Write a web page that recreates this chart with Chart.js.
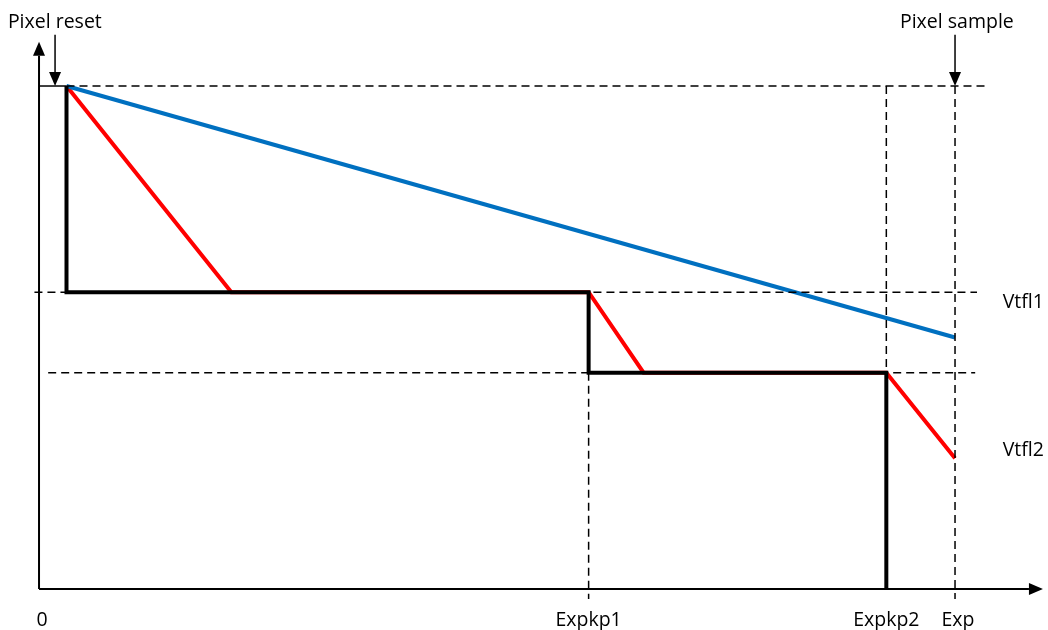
<!DOCTYPE html>
<html>
<head>
<meta charset="utf-8">
<script src="https://cdn.jsdelivr.net/npm/chart.js@4"></script>
<style>
  html, body { margin: 0; padding: 0; background: #fff; }
  #wrap { width: 1048px; height: 630px; }
</style>
</head>
<body>
<div id="wrap"><canvas id="c"></canvas></div>
<script>
// time axis: 0 = reset start, 100 = end of exposure; level axis: 100 = reset level
var MARK_T = [0, 60, 92.5, 100];
var MARK_LABELS = ["0", "Expkp1", "Expkp2", "Exp"];
var LEVELS = [100, 59, 43];
var LEVEL_LABELS = ["", "Vtfl1", "Vtfl2"];

var BLUE_T = [3, 100];
var BLUE_V = [100, 50];
var RED_T = [3, 21, 60, 66, 92.5, 100];
var RED_V = [100, 59, 59, 43, 43, 26];
var BLACK_T = [3, 3, 60, 60, 92.5, 92.5];
var BLACK_V = [100, 59, 59, 43, 43, 0];

function pts(xs, ys) { return xs.map(function (x, i) { return { x: x, y: ys[i] }; }); }

function dashed(data) {
  return { data: data, borderColor: "#000", borderWidth: 1.5, borderDash: [8, 5], pointRadius: 0, fill: false, tension: 0 };
}

var FONT = '19.5px "Open Sans", sans-serif';

var overlay = {
  id: "overlay",
  afterDatasetsDraw: function (chart) {
    var ctx = chart.ctx, sx = chart.scales.x, sy = chart.scales.y;
    var X = function (v) { return sx.getPixelForValue(v); };
    var Y = function (v) { return sy.getPixelForValue(v); };
    ctx.save();
    ctx.strokeStyle = "#000"; ctx.fillStyle = "#000";

    function arrow(x1, y1, x2, y2, w) {
      ctx.lineWidth = w;
      var a = Math.atan2(y2 - y1, x2 - x1), L = 14, H = 6;
      ctx.beginPath(); ctx.moveTo(x1, y1);
      ctx.lineTo(x2 - Math.cos(a) * L, y2 - Math.sin(a) * L); ctx.stroke();
      ctx.beginPath();
      ctx.moveTo(x2, y2);
      ctx.lineTo(x2 - Math.cos(a) * L - Math.sin(a) * H, y2 - Math.sin(a) * L + Math.cos(a) * H);
      ctx.lineTo(x2 - Math.cos(a) * L + Math.sin(a) * H, y2 - Math.sin(a) * L - Math.cos(a) * H);
      ctx.closePath(); ctx.fill();
    }

    // axes
    arrow(X(0), Y(0), X(0), Y(108.8), 2);
    arrow(X(0), Y(0), X(109.6), Y(0), 2);

    // short solid tick at reset level
    ctx.lineWidth = 1.5;
    ctx.beginPath(); ctx.moveTo(X(0), Y(100)); ctx.lineTo(X(3), Y(100)); ctx.stroke();

    // event arrows
    arrow(X(1.75), Y(110.2), X(1.75), Y(100), 1.5);
    arrow(X(100), Y(110.2), X(100), Y(100), 1.5);

    ctx.font = FONT;
    ctx.textBaseline = "middle";
    ctx.textAlign = "left";
    ctx.fillText("Pixel reset", X(-3.4), Y(112.6));
    ctx.textAlign = "center";
    ctx.fillText("Pixel sample", X(100.2), Y(112.6));

    ctx.textAlign = "left";
    LEVELS.forEach(function (v, i) {
      if (LEVEL_LABELS[i]) ctx.fillText(LEVEL_LABELS[i], X(105.2), Y(v) + (i === 2 ? 78 : 10));
    });

    ctx.textAlign = "center";
    MARK_T.forEach(function (t, i) {
      ctx.fillText(MARK_LABELS[i], X(t) + (i === 0 ? 3 : i === 3 ? 3 : 0), Y(0) + 31);
    });
    ctx.restore();
  }
};

new Chart(document.getElementById("c"), {
  type: "line",
  data: {
    datasets: [
      dashed([{ x: 3, y: LEVELS[0] }, { x: 103.3, y: LEVELS[0] }]),
      dashed([{ x: -0.5, y: LEVELS[1] }, { x: 102.4, y: LEVELS[1] }]),
      dashed([{ x: 1, y: LEVELS[2] }, { x: 102.2, y: LEVELS[2] }]),
      dashed([{ x: MARK_T[1], y: LEVELS[2] }, { x: MARK_T[1], y: -2 }]),
      dashed([{ x: MARK_T[2], y: LEVELS[0] }, { x: MARK_T[2], y: LEVELS[2] }]),
      dashed([{ x: MARK_T[3], y: LEVELS[0] }, { x: MARK_T[3], y: -2 }]),
      { data: pts(BLACK_T, BLACK_V), borderColor: "#000", borderWidth: 4, pointRadius: 0, tension: 0, borderJoinStyle: "miter" },
      { data: pts(BLUE_T, BLUE_V), borderColor: "#0070C0", borderWidth: 4, pointRadius: 0, tension: 0 },
      { data: pts(RED_T, RED_V), borderColor: "#FF0000", borderWidth: 4, pointRadius: 0, tension: 0 }
    ]
  },
  options: {
    responsive: true,
    maintainAspectRatio: false,
    animation: false,
    layout: { padding: 0 },
    plugins: { legend: { display: false }, tooltip: { enabled: false } },
    scales: {
      x: { type: "linear", display: false, min: -4.26, max: 110.15 },
      y: { type: "linear", display: false, min: -8.15, max: 117.1 }
    }
  },
  plugins: [overlay]
});
</script>
</body>
</html>
